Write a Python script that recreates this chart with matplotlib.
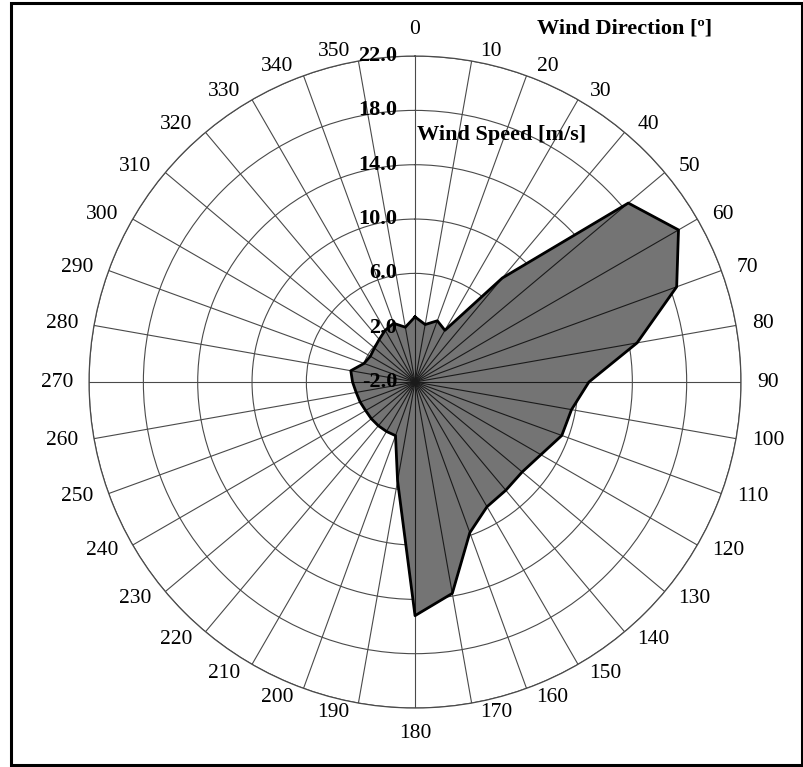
import numpy as np
import matplotlib
matplotlib.use("Agg")
import matplotlib.pyplot as plt
from matplotlib.patches import Rectangle

# wind direction [deg] and mean wind speed [m/s]
directions = list(range(0, 360, 10))
speed = [2.8, 2.3, 2.8, 2.4, 8.0, 18.5, 20.4, 18.5, 14.6, 10.8,
         9.7, 9.5, 8.7, 8.3, 8.4, 8.6, 9.8, 13.8, 15.2, 5.4,
         2.2, 2.2, 2.2, 2.2, 2.2, 2.3, 2.4, 2.6, 2.8, 2.0,
         1.8, 1.9, 2.1, 2.4, 2.6, 2.1]
r_ticks = [-2.0, 2.0, 6.0, 10.0, 14.0, 18.0, 22.0]
r_min, r_max = -2.0, 22.0

plt.rcParams['font.family'] = ['Liberation Serif', 'DejaVu Serif']

fig = plt.figure(figsize=(8.04, 7.67), dpi=100)
fig.patch.set_facecolor('white')
ax = fig.add_axes([0.1107, 0.0769, 0.811, 0.850], projection='polar')
ax.set_theta_zero_location('N')
ax.set_theta_direction(-1)
ax.set_ylim(r_min, r_max)

theta = np.deg2rad(directions)
grid_col = '#4a4a4a'

# grid: circles and spokes
ax.set_xticks(theta)
ax.set_yticks(r_ticks)
ax.set_xticklabels([])
ax.set_yticklabels([])
ax.grid(True, color=grid_col, lw=0.8)
ax.spines['polar'].set_color(grid_col)
ax.spines['polar'].set_linewidth(0.9)

# filled radar polygon
th_c = np.append(theta, theta[0])
sp_c = np.append(speed, speed[0])
ax.fill(th_c, sp_c, color='#747474', zorder=3)
ax.plot(th_c, sp_c, color='black', lw=2.0, zorder=5)
# spokes visible through the fill
for t, s in zip(theta, speed):
    ax.plot([t, t], [r_min, s], color='#1a1a1a', lw=0.8, zorder=4)

# direction labels around the outside (excel-like placement)
for d, t in zip(directions, theta):
    lab = str(d)
    s, c = np.sin(t), np.cos(t)
    if abs(s) < 0.01:
        ax.annotate(lab, xy=(t, r_max), xytext=(0, (27 if c > 0 else 25) * np.sign(c)),
                    textcoords='offset pixels', ha='center', va='center',
                    fontsize=15.5, annotation_clip=False)
    else:
        gap = 7 + 9 * abs(s)
        ax.annotate(lab, xy=(t, r_max), xytext=(gap * np.sign(s), 10 * c),
                    textcoords='offset pixels',
                    ha='left' if s > 0 else 'right', va='center',
                    fontsize=15.5, annotation_clip=False)

# speed labels along the 0 spoke
for rv in r_ticks:
    ax.annotate('%.1f' % rv, xy=(0, rv), xytext=(-18, 0),
                textcoords='offset pixels', ha='right', va='center',
                fontsize=16, fontweight='bold', zorder=6)

fig.text(537 / 804, 1 - 28 / 767, 'Wind Direction [º]', ha='left', va='center',
         fontsize=16, fontweight='bold')
fig.text(417 / 804, 1 - 135 / 767, 'Wind Speed [m/s]', ha='left', va='center',
         fontsize=16, fontweight='bold')

# outer frame
fig.patches.append(Rectangle((11 / 804, 2 / 767), 791 / 804, 762 / 767,
                             transform=fig.transFigure, fill=False,
                             edgecolor='black', lw=2.2))

fig.savefig('out.png', dpi=100)
